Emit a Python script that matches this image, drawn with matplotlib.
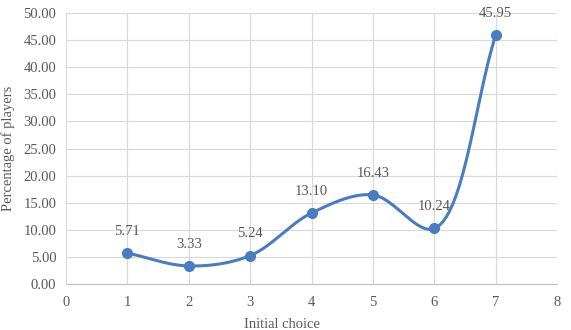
import numpy as np
import matplotlib.pyplot as plt

choices = [1, 2, 3, 4, 5, 6, 7]
percent = [5.71, 3.33, 5.24, 13.10, 16.43, 10.24, 45.95]

plt.rcParams['font.family'] = ['Liberation Serif', 'DejaVu Serif']
gray = '#595959'
blue = '#4a7cc0'


def smooth(x, y, sx, sy, n=60):
    # centripetal Catmull-Rom in screen space, for an Excel-like smoothed line
    p = np.column_stack([np.asarray(x) * sx, np.asarray(y) * sy]).astype(float)
    ext = np.vstack([2 * p[0] - p[1], p, 2 * p[-1] - p[-2]])
    out = []
    for i in range(len(p) - 1):
        P0, P1, P2, P3 = ext[i], ext[i + 1], ext[i + 2], ext[i + 3]
        t0 = 0.0
        t1 = t0 + np.linalg.norm(P1 - P0) ** 0.5
        t2 = t1 + np.linalg.norm(P2 - P1) ** 0.5
        t3 = t2 + np.linalg.norm(P3 - P2) ** 0.5
        t = np.linspace(t1, t2, n)[:, None]
        A1 = (t1 - t) / (t1 - t0) * P0 + (t - t0) / (t1 - t0) * P1
        A2 = (t2 - t) / (t2 - t1) * P1 + (t - t1) / (t2 - t1) * P2
        A3 = (t3 - t) / (t3 - t2) * P2 + (t - t2) / (t3 - t2) * P3
        B1 = (t2 - t) / (t2 - t0) * A1 + (t - t0) / (t2 - t0) * A2
        B2 = (t3 - t) / (t3 - t1) * A2 + (t - t1) / (t3 - t1) * A3
        C = (t2 - t) / (t2 - t1) * B1 + (t - t1) / (t2 - t1) * B2
        out.append(C)
    out = np.vstack(out)
    return out[:, 0] / sx, out[:, 1] / sy


fig = plt.figure(figsize=(5.71, 3.30), dpi=100)
ax = fig.add_axes([0.1156, 0.1394, 0.86, 0.8212])

cx, cy = smooth(choices, percent, 491 / 8, 271 / 50)
ax.plot(cx, cy, color=blue, lw=2.2, zorder=3)
ax.plot(choices, percent, 'o', color=blue, ms=7, zorder=4)

for xv, yv in zip(choices, percent):
    ax.annotate(f"{yv:.2f}", (xv, yv), xytext=(0, 11), textcoords='offset points',
                ha='center', va='bottom', fontsize=10.5, color=gray)

ax.set_xlim(0, 8)
ax.set_ylim(0, 50)
ax.set_xticks(range(0, 9))
ax.set_yticks(np.arange(0, 50.1, 5))
ax.set_yticklabels([f"{v:.2f}" for v in np.arange(0, 50.1, 5)])
ax.grid(True, color='#d9d9d9', lw=0.8)
ax.set_axisbelow(True)
for s in ['top', 'right', 'left']:
    ax.spines[s].set_visible(False)
ax.spines['bottom'].set_color('#bfbfbf')
ax.tick_params(length=0, labelsize=10.5, colors=gray)
ax.tick_params(axis='x', pad=9)
ax.tick_params(axis='y', pad=7)
ax.set_xlabel("Initial choice", fontsize=10.5, color=gray, labelpad=3)
ax.xaxis.set_label_coords(0.44, -0.125)
ax.set_ylabel("Percentage of players", fontsize=10.5, color=gray, labelpad=6)

fig.savefig("out.png", dpi=100)
